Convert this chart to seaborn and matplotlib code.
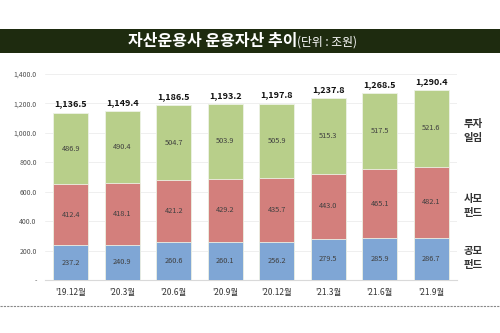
import matplotlib
matplotlib.use("Agg")
import matplotlib.pyplot as plt
import seaborn as sns
import pandas as pd
import numpy as np

periods = ["'19.12월", "'20.3월", "'20.6월", "'20.9월", "'20.12월", "'21.3월", "'21.6월", "'21.9월"]
public_funds = [237.2, 240.9, 260.6, 260.1, 256.2, 279.5, 285.9, 286.7]
private_funds = [412.4, 418.1, 421.2, 429.2, 435.7, 443.0, 465.1, 482.1]
discretionary = [486.9, 490.4, 504.7, 503.9, 505.9, 515.3, 517.5, 521.6]
totals = [1136.5, 1149.4, 1186.5, 1193.2, 1197.8, 1237.8, 1268.5, 1290.4]
series_names = ["공모\n펀드", "사모\n펀드", "투자\n일임"]
yticks = [0, 200, 400, 600, 800, 1000, 1200, 1400]
ytick_labels = ["-", "200.0", "400.0", "600.0", "800.0", "1,000.0", "1,200.0", "1,400.0"]

sns.set_theme(style="white")
plt.rcParams['font.family'] = ['Noto Sans CJK KR', 'DejaVu Sans']

colors = ["#7fa6d5", "#d37f7c", "#b8cf8a"]

fig = plt.figure(figsize=(5, 3.33), dpi=100)
ax = fig.add_axes([0.09, 0.159, 0.824, 0.619])

layers = [np.array(public_funds), np.array(private_funds), np.array(discretionary)]
cums = np.cumsum(layers, axis=0)
df = pd.DataFrame({"period": periods})
# draw cumulative layers from tallest to shortest so they stack visually
for i in [2, 1, 0]:
    df["v"] = cums[i]
    sns.barplot(data=df, x="period", y="v", color=colors[i], ax=ax, width=0.68,
                saturation=1, edgecolor="#eef2e6", linewidth=0.6, zorder=3)

xs = np.arange(len(periods))
for i in range(3):
    bottom = cums[i] - layers[i]
    for x, v, b in zip(xs, layers[i], bottom):
        ax.text(x, b + v / 2, f"{v:.1f}", ha="center", va="center", fontsize=5.3, color="#404040", zorder=5)

for x, t in zip(xs, totals):
    ax.text(x, t + 28, f"{t:,.1f}", ha="center", va="bottom", fontsize=6.5, fontweight="bold", color="#111111", zorder=5)

ax.set_xlim(-0.5, 7.5)
ax.set_ylim(0, 1400)
ax.set_yticks(yticks)
ax.set_yticklabels(ytick_labels, fontsize=5, color="#505050")
ax.set_xticks(xs)
ax.set_xticklabels(periods, fontsize=6, color="#333333")
ax.tick_params(axis="both", length=0, pad=6)
ax.grid(axis="y", color="#ececec", linewidth=0.6, zorder=0)
ax.set_axisbelow(True)
for s in ["top", "right", "left"]:
    ax.spines[s].set_visible(False)
ax.spines["bottom"].set_color("#d9d9d9")
ax.spines["bottom"].set_linewidth(0.8)
ax.set_xlabel("")
ax.set_ylabel("")

# right-side series labels
for name, ypx in zip(series_names, [258, 206, 131]):
    fig.text(0.946, 1 - ypx / 333, name, ha="center", va="center", fontsize=7.5,
             fontweight="bold", color="#333333", linespacing=1.5)

# title bar
fig.patches.append(plt.Rectangle((0, 1 - 53 / 333), 1, 24 / 333, transform=fig.transFigure,
                                 facecolor="#1e2b0f", edgecolor="none", zorder=0))
fig.text(297 / 500, 1 - 41 / 333, "자산운용사 운용자산 추이", ha="right", va="center", fontsize=11.5,
         fontweight="bold", color="white")
fig.text(297 / 500, 1 - 42 / 333, "(단위 : 조원)", ha="left", va="center", fontsize=8.5,
         color="white")

# dashed line at bottom
fig.add_artist(plt.Line2D([0, 1], [1 - 306 / 333, 1 - 306 / 333], transform=fig.transFigure,
                          color="#888888", linestyle=(0, (2, 1)), linewidth=0.8))

fig.savefig("out.png", dpi=100)
